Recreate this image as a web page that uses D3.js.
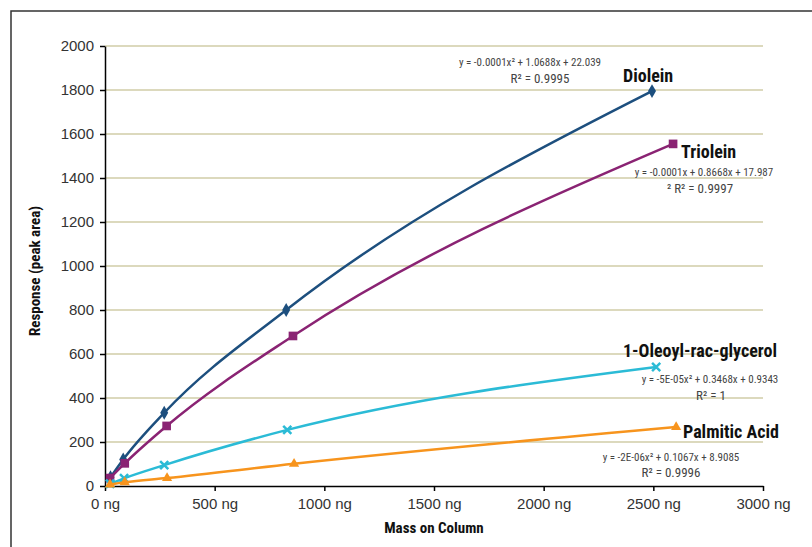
<!DOCTYPE html>
<html>
  <head>
    <title>Response vs mass on column</title>
    <script src="https://cdn.jsdelivr.net/npm/d3@7"></script>
    <style type="text/css">

html, body {
  margin: 0;
  background: #fff;
}

svg {
  display: block;
  font-family: "Liberation Sans Narrow", "Roboto Condensed", "Liberation Sans", sans-serif;
}

.grid line {
  stroke: #dcd9bd;
  stroke-width: 2;
}

.axis path, .axis line {
  stroke: #000;
  stroke-width: 1.5;
}

.axis text {
  fill: #333;
  font-size: 15px;
}

.title {
  font-weight: bold;
  font-size: 15px;
  fill: #111;
}

.label {
  font-weight: bold;
  font-size: 18px;
  fill: #111;
}

.eq {
  font-size: 11px;
  fill: #444;
}

    </style>
  </head>
  <body>
    <script type="text/javascript">

var xTicks = [0, 500, 1000, 1500, 2000, 2500, 3000];
var yTicks = [0, 200, 400, 600, 800, 1000, 1200, 1400, 1600, 1800, 2000];

var dioleinMass = [25, 83, 270, 826, 2494];
var dioleinResp = [40, 121, 333, 800, 1795];
var trioleinMass = [23, 90, 281, 857, 2590];
var trioleinResp = [36, 103, 273, 682, 1555];
var oleoylMass = [23, 87, 270, 831, 2513];
var oleoylResp = [10, 35, 95, 255, 541];
var palmiticMass = [23, 90, 283, 862, 2604];
var palmiticResp = [7, 17, 36, 101, 268];

var seriesNames = ["Diolein", "Triolein", "1-Oleoyl-rac-glycerol", "Palmitic Acid"];
var seriesColors = ["#1d4f7e", "#8a2373", "#2bbbd6", "#f7941d"];
var seriesMarks = ["diamond", "square", "star", "triangle"];

var equations = [
  ["y = -0.0001x\u00b2 + 1.0688x + 22.039", "R\u00b2 = 0.9995"],
  ["y = -0.0001x   + 0.8668x + 17.987", "\u00b2 R\u00b2 = 0.9997"],
  ["y = -5E-05x\u00b2 + 0.3468x + 0.9343", "R\u00b2 = 1"],
  ["y = -2E-06x\u00b2 + 0.1067x + 8.9085", "R\u00b2 = 0.9996"]
];

var series = [
  {mass: dioleinMass, resp: dioleinResp},
  {mass: trioleinMass, resp: trioleinResp},
  {mass: oleoylMass, resp: oleoylResp},
  {mass: palmiticMass, resp: palmiticResp}
].map(function(s, i) {
  return {
    name: seriesNames[i],
    color: seriesColors[i],
    mark: seriesMarks[i],
    eq: equations[i],
    points: s.mass.map(function(m, j) { return {x: m, y: s.resp[j]}; })
  };
});

// label placement (pixel positions)
var labelPos = [
  {lx: 623, ly: 82, ex: 530, ey: 66, rx: 540, ry: 83},
  {lx: 681, ly: 158, ex: 704, ey: 176, rx: 700, ry: 193},
  {lx: 623, ly: 357, ex: 710, ey: 383, rx: 711, ry: 400},
  {lx: 683, ly: 438, ex: 671, ey: 461, rx: 671, ry: 477}
];

var width = 812, height = 547;
var margin = {left: 105, right: 49, top: 46, bottom: 61};

var svg = d3.select("body")
  .append("svg")
    .attr("width", width)
    .attr("height", height);

// outer frame
svg.append("rect")
    .attr("x", 11)
    .attr("y", 11)
    .attr("width", width + 20)
    .attr("height", height + 20)
    .attr("fill", "none")
    .attr("stroke", "#333")
    .attr("stroke-width", 1.5);

var x = d3.scaleLinear()
    .domain([0, 3000])
    .range([margin.left, width - margin.right]);

var y = d3.scaleLinear()
    .domain([0, 2000])
    .range([height - margin.bottom, margin.top]);

svg.append("g")
    .attr("class", "grid")
  .selectAll("line")
    .data(yTicks.slice(1))
  .enter().append("line")
    .attr("x1", x(0))
    .attr("x2", x(3000))
    .attr("y1", y)
    .attr("y2", y);

svg.append("g")
    .attr("class", "axis")
    .attr("transform", "translate(0," + y(0) + ")")
    .call(d3.axisBottom(x).tickValues(xTicks).tickSize(5).tickSizeOuter(0)
      .tickFormat(function(d) { return d + " ng"; }))
  .selectAll("text")
    .attr("dy", "1em");

svg.append("g")
    .attr("class", "axis")
    .attr("transform", "translate(" + x(0) + ",0)")
    .call(d3.axisLeft(y).tickValues(yTicks).tickSize(5).tickSizeOuter(0)
      .tickFormat(d3.format("d")))
  .selectAll("text")
    .attr("dx", "-0.2em");

svg.append("text")
    .attr("class", "title")
    .attr("text-anchor", "middle")
    .attr("x", (x(0) + x(3000)) / 2)
    .attr("y", 533)
    .text("Mass on Column");

svg.append("text")
    .attr("class", "title")
    .attr("text-anchor", "middle")
    .attr("transform", "translate(40," + (y(1000) + 5) + ") rotate(-90)")
    .text("Response (peak area)");

var line = d3.line()
    .x(function(d) { return x(d.x); })
    .y(function(d) { return y(d.y); })
    .curve(d3.curveMonotoneX);

var symbols = {
  diamond: d3.symbol().type(d3.symbolDiamond).size(55),
  square: d3.symbol().type(d3.symbolSquare).size(75),
  star: d3.symbol().type(d3.symbolTimes).size(45),
  triangle: d3.symbol().type(d3.symbolTriangle).size(45)
};

var g = svg.selectAll(".series")
    .data(series)
  .enter().append("g")
    .attr("class", "series");

g.append("path")
    .attr("fill", "none")
    .attr("stroke", function(d) { return d.color; })
    .attr("stroke-width", 2.5)
    .attr("d", function(d) { return line(d.points); });

g.each(function(s) {
  d3.select(this).selectAll(".mark")
      .data(s.points)
    .enter().append("path")
      .attr("class", "mark")
      .attr("transform", function(d) { return "translate(" + x(d.x) + "," + y(d.y) + ")"; })
      .attr("d", symbols[s.mark])
      .attr("fill", s.color)
      .attr("stroke", s.color)
      .attr("stroke-width", s.mark === "star" ? 2.5 : 0);
});

g.append("text")
    .attr("class", "label")
    .attr("x", function(d, i) { return labelPos[i].lx; })
    .attr("y", function(d, i) { return labelPos[i].ly; })
    .text(function(d) { return d.name; });

g.append("text")
    .attr("class", "eq")
    .attr("text-anchor", "middle")
    .attr("x", function(d, i) { return labelPos[i].ex; })
    .attr("y", function(d, i) { return labelPos[i].ey; })
    .text(function(d) { return d.eq[0]; });

g.append("text")
    .attr("class", "eq")
    .attr("text-anchor", "middle")
    .style("font-size", "13px")
    .attr("x", function(d, i) { return labelPos[i].rx; })
    .attr("y", function(d, i) { return labelPos[i].ry; })
    .text(function(d) { return d.eq[1]; });

    </script>
  </body>
</html>
